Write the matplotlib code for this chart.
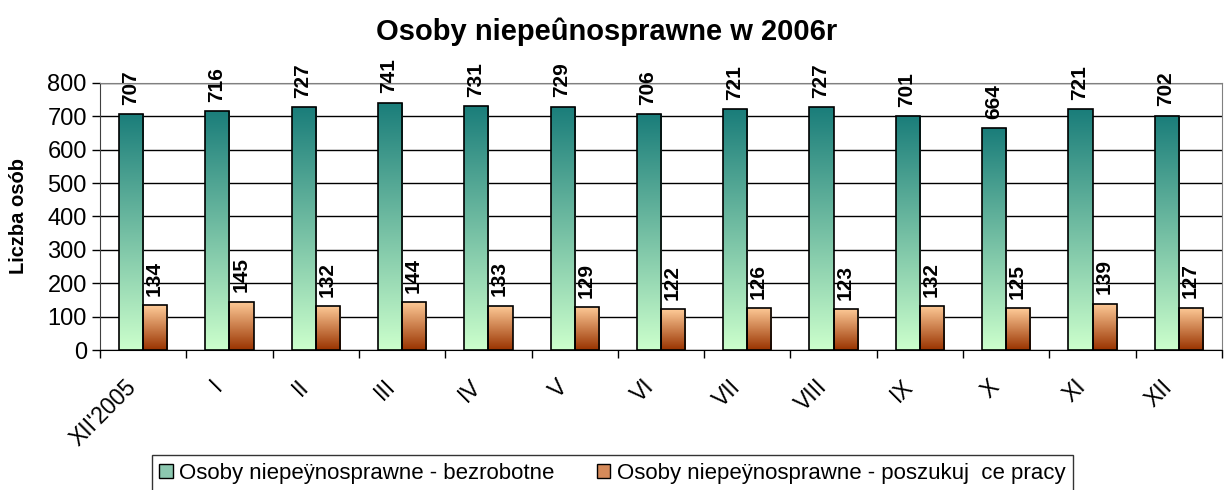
import numpy as np
import matplotlib
matplotlib.use("Agg")
import matplotlib.pyplot as plt
from matplotlib.colors import LinearSegmentedColormap
from matplotlib.patches import Patch

plt.rcParams['font.family'] = ['Liberation Sans', 'DejaVu Sans']

months = ["XII'2005", "I", "II", "III", "IV", "V", "VI", "VII", "VIII", "IX", "X", "XI", "XII"]
bezrobotne = [707, 716, 727, 741, 731, 729, 706, 721, 727, 701, 664, 721, 702]
poszukujace = [134, 145, 132, 144, 133, 129, 122, 126, 123, 132, 125, 139, 127]

teal = LinearSegmentedColormap.from_list("teal", ["#ccffcc", "#1a7d7a"])
brown = LinearSegmentedColormap.from_list("brown", ["#993300", "#ffcc99"])

fig = plt.figure(figsize=(12.25, 4.9), dpi=100)
ax = fig.add_axes([0.0816, 0.2857, 0.916, 0.545])

x = np.arange(len(months))
w = 0.28
grad = np.linspace(0, 1, 256).reshape(-1, 1)


def gradient_bars(xs, vals, cmap):
    bars = ax.bar(xs, vals, width=w, facecolor="none", edgecolor="black", linewidth=1.2, zorder=4)
    for b in bars:
        x0, y0 = b.get_x(), b.get_y()
        im = ax.imshow(grad, cmap=cmap, origin="lower", aspect="auto",
                       extent=[x0, x0 + b.get_width(), y0, y0 + b.get_height()], zorder=3)
        im.set_clip_path(b)
    for xi, v in zip(xs, vals):
        ax.text(xi - 0.01, v + 28, str(v), rotation=90, ha="center", va="bottom",
                fontsize=15, fontweight="bold", zorder=5)
    return bars


gradient_bars(x - w / 2, bezrobotne, teal)
gradient_bars(x + w / 2, poszukujace, brown)

ax.set_xlim(-0.5, len(months) - 0.5)
ax.set_ylim(0, 800)
ax.set_yticks(range(0, 801, 100))
ax.yaxis.grid(True, color="black", linewidth=1)
ax.set_axisbelow(True)
ax.tick_params(axis="y", labelsize=17, length=6, width=1, direction="out")

# labels sit a little left of the category centre, as in the original
ax.set_xticks(x - 0.12)
ax.set_xticklabels(months, rotation=45, ha="right", va="center", rotation_mode="anchor", fontsize=16.5)
ax.set_xticks(np.arange(-0.5, len(months)), minor=True)
ax.tick_params(axis="x", which="major", length=0, pad=24)
ax.tick_params(axis="x", which="minor", length=6, width=1)

for s in ["top", "right"]:
    ax.spines[s].set_color("#808080")
ax.spines["left"].set_color("#404040")
ax.spines["bottom"].set_color("black")

ax.set_ylabel("Liczba osób", fontsize=14.5, fontweight="bold")
ax.yaxis.set_label_coords(-0.064, 0.5)
fig.text(0.495, 0.935, "Osoby niepeûnosprawne w 2006r", ha="center", va="center",
         fontsize=21, fontweight="bold")

handles = [Patch(facecolor="#8cc8b0", edgecolor="black"),
           Patch(facecolor="#d58a5a", edgecolor="black")]
leg = fig.legend(handles, ["Osoby niepeÿnosprawne - bezrobotne",
                           "Osoby niepeÿnosprawne - poszukuj  ce pracy"],
                 loc="upper center", bbox_to_anchor=(0.5, 0.071), ncol=2,
                 fontsize=16, frameon=True, fancybox=False, edgecolor="black",
                 handlelength=0.6, handleheight=0.6, handletextpad=0.3,
                 columnspacing=1.9, borderpad=0.35, borderaxespad=0)
leg.get_frame().set_linewidth(1)

fig.savefig("out.png", dpi=100)
